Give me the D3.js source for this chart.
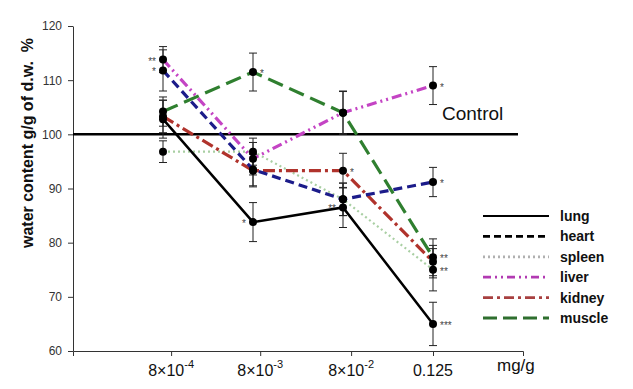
<!DOCTYPE html>
<html>
<head>
<meta charset="utf-8">
<script src="https://cdn.jsdelivr.net/npm/d3@7"></script>
<style>
  body { margin: 0; background: #fff; }
  svg { font-family: Arial, "Liberation Sans", sans-serif; }
</style>
</head>
<body>
<div id="viz"></div>
<script>
const width = 633;
const height = 389;

// data
const doses = [['8×10', '-4'], ['8×10', '-3'], ['8×10', '-2'], ['0.125', '']];
const organs = ['lung', 'heart', 'spleen', 'liver', 'kidney', 'muscle'];
const lung   = [102.8, 83.8, 86.5, 65.0];
const heart  = [111.8, 93.5, 88.0, 91.2];
const spleen = [96.8, 96.8, 88.0, 75.0];
const liver  = [113.8, 95.5, 104.0, 109.0];
const kidney = [103.3, 93.3, 93.3, 76.5];
const muscle = [104.2, 111.5, 104.0, 77.3];
const lungErr   = [3.5, 3.6, 3.7, 4.0];
const heartErr  = [3.8, 3.0, 3.0, 2.7];
const spleenErr = [2.0, 2.5, 3.0, 3.9];
const liverErr  = [2.4, 3.0, 3.9, 3.5];
const kidneyErr = [3.0, 3.0, 3.2, 3.0];
const muscleErr = [2.7, 3.5, 4.0, 3.4];
const control = 100;
const yTicks = [60, 70, 80, 90, 100, 110, 120];
// tick marks sit a little right of the points in the original
const tickPos = [0.09, 1.08, 2.09, 3.0];
// significance marks: organ, dose index, label, side
const stars = [
  ['liver', 0, '**', 'left'], ['heart', 0, '*', 'left'],
  ['muscle', 1, '*', 'right'], ['lung', 1, '*', 'left'],
  ['lung', 2, '**', 'left'], ['kidney', 2, '*', 'right'],
  ['liver', 3, '*', 'right'], ['heart', 3, '*', 'right'],
  ['muscle', 3, '**', 'right'], ['spleen', 3, '**', 'right'],
  ['lung', 3, '***', 'right']
];

const values = {lung, heart, spleen, liver, kidney, muscle};
const errors = {lung: lungErr, heart: heartErr, spleen: spleenErr, liver: liverErr, kidney: kidneyErr, muscle: muscleErr};

const styles = {
  lung:   {color: '#000000', dash: null, w: 2.5, legColor: '#000000', legDash: null},
  heart:  {color: '#1c1c8a', dash: '9,5', w: 3.2, legColor: '#000000', legDash: '7,4'},
  spleen: {color: '#a9cfa3', dash: '2,3', w: 2.2, legColor: '#b0b0b0', legDash: '2,3'},
  liver:  {color: '#c444c4', dash: '10,4,2,4,2,4', w: 3.2, legColor: '#b23ab2', legDash: '8,4,2,4,2,4'},
  kidney: {color: '#b0332c', dash: '12,4,3,4', w: 3.2, legColor: '#a84040', legDash: '10,4,3,4'},
  muscle: {color: '#2f7f2f', dash: '16,7', w: 3.2, legColor: '#2f6f2f', legDash: '14,6'}
};

const x = d3.scaleLinear().domain([-1, 4]).range([73, 523]);
const y = d3.scaleLinear().domain([60, 120]).range([351, 26]);

const svg = d3.select('#viz')
  .append('svg')
    .attr('width', width)
    .attr('height', height);

// y axis
const yAxis = svg.append('g')
  .attr('transform', `translate(${x(-1)},0)`)
  .call(d3.axisLeft(y).tickValues(yTicks).tickSize(5).tickSizeOuter(0).tickPadding(6));
yAxis.selectAll('text').attr('font-size', 12).attr('fill', '#333').attr('font-family', 'Arial, sans-serif');
yAxis.selectAll('line, path').attr('stroke', '#333');

// x axis
const xAxis = svg.append('g')
  .attr('transform', `translate(0,${y(60)})`)
  .call(d3.axisBottom(x).tickValues(tickPos).tickSize(5).tickSizeOuter(5).tickFormat(''));
xAxis.selectAll('line, path').attr('stroke', '#333');

const xLabels = svg.append('g')
  .selectAll('text')
  .data(doses)
  .join('text')
    .attr('x', (d, i) => x(tickPos[i]))
    .attr('y', 376)
    .attr('text-anchor', 'middle')
    .attr('font-size', 16)
    .attr('fill', '#111');
xLabels.append('tspan').text(d => d[0]);
xLabels.append('tspan')
  .attr('dy', -8)
  .attr('font-size', 11)
  .text(d => d[1]);

svg.append('text')
  .attr('x', 497)
  .attr('y', 371)
  .attr('font-size', 17)
  .attr('fill', '#111')
  .text('mg/g');

// y label
svg.append('text')
  .attr('transform', `translate(33,${143}) rotate(-90)`)
  .attr('text-anchor', 'middle')
  .attr('font-size', 16)
  .attr('font-weight', 'bold')
  .attr('fill', '#111')
  .style('white-space', 'pre')
  .text('water content g/g of d.w.  %');

// control line
svg.append('line')
  .attr('x1', x(-1))
  .attr('x2', 518)
  .attr('y1', y(control))
  .attr('y2', y(control))
  .attr('stroke', '#000')
  .attr('stroke-width', 2.5);
svg.append('text')
  .attr('x', 442)
  .attr('y', 120)
  .attr('font-size', 19)
  .attr('fill', '#111')
  .text('Control');

// error bars
const errG = svg.append('g').attr('class', 'errors');
organs.forEach(o => {
  values[o].forEach((v, i) => {
    const e = errors[o][i];
    errG.append('line')
      .attr('x1', x(i)).attr('x2', x(i))
      .attr('y1', y(v + e)).attr('y2', y(v - e))
      .attr('stroke', '#222').attr('stroke-width', 1);
    [v + e, v - e].forEach(c => {
      errG.append('line')
        .attr('x1', x(i) - 4).attr('x2', x(i) + 4)
        .attr('y1', y(c)).attr('y2', y(c))
        .attr('stroke', '#222').attr('stroke-width', 1);
    });
  });
});

// lines
const line = d3.line().x((d, i) => x(i)).y(d => y(d));
const drawOrder = ['spleen', 'kidney', 'heart', 'liver', 'muscle', 'lung'];
svg.append('g')
  .selectAll('path')
  .data(drawOrder)
  .join('path')
    .attr('d', o => line(values[o]))
    .attr('fill', 'none')
    .attr('stroke', o => styles[o].color)
    .attr('stroke-width', o => styles[o].w)
    .attr('stroke-dasharray', o => styles[o].dash);

// points
organs.forEach(o => {
  svg.append('g')
    .selectAll('circle')
    .data(values[o])
    .join('circle')
      .attr('cx', (d, i) => x(i))
      .attr('cy', d => y(d))
      .attr('r', 4)
      .attr('fill', '#000');
});

// stars
svg.append('g')
  .selectAll('text')
  .data(stars)
  .join('text')
    .attr('x', d => d[3] === 'left' ? x(d[1]) - 7 : x(d[1]) + 7)
    .attr('y', d => y(values[d[0]][d[1]]) + 5)
    .attr('text-anchor', d => d[3] === 'left' ? 'end' : 'start')
    .attr('font-size', 10)
    .attr('fill', '#444')
    .text(d => d[2]);

// legend
const legend = svg.append('g')
  .selectAll('g')
  .data(organs)
  .join('g')
    .attr('transform', (d, i) => `translate(483,${216 + i * 20.4})`);
legend.append('line')
  .attr('x1', 0).attr('x2', 66)
  .attr('stroke', d => styles[d].legColor)
  .attr('stroke-width', d => d === 'lung' ? 2.2 : 2.8)
  .attr('stroke-dasharray', d => styles[d].legDash);
legend.append('text')
  .attr('x', 77)
  .attr('y', 5)
  .attr('font-size', 14)
  .attr('font-weight', 'bold')
  .attr('fill', '#111')
  .text(d => d);
</script>
</body>
</html>
